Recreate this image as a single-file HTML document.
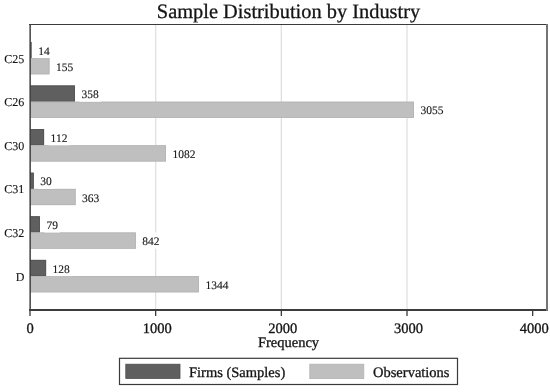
<!DOCTYPE html>
<html><head><meta charset="utf-8"><style>
html,body{margin:0;padding:0;background:#fff;}
svg{display:block;filter:grayscale(1);}
text{text-rendering:geometricPrecision;font-family:"Liberation Serif",serif;fill:#151515;stroke:#151515;stroke-width:0.3px;}
.v{font-size:11.5px;stroke-width:0.12px;}
.c{font-size:12px;stroke-width:0.12px;}
.t{font-size:14.5px;}
.title{font-size:20.4px;}
</style></head><body>
<svg width="550" height="392" viewBox="0 0 550 392">
<rect width="550" height="392" fill="#fff"/>
<line x1="155.67" y1="24.5" x2="155.67" y2="309" stroke="#e0e0e0" stroke-width="1.3"/>
<line x1="281.34" y1="24.5" x2="281.34" y2="309" stroke="#e0e0e0" stroke-width="1.3"/>
<line x1="407.01" y1="24.5" x2="407.01" y2="309" stroke="#e0e0e0" stroke-width="1.3"/>
<rect x="30.0" y="41.90" width="1.76" height="16.2" fill="#5f5f5f"/>
<rect x="30.0" y="58.10" width="19.48" height="16.2" fill="#bfbfbf"/>
<rect x="30.4" y="58.50" width="18.68" height="15.40" fill="none" stroke="#b4b4b4" stroke-width="0.8"/>
<rect x="36.26" y="41.90" width="15.50" height="16.2" fill="#fff"/>
<rect x="53.98" y="58.10" width="21.25" height="16.2" fill="#fff"/>
<text x="38.26" y="54.60" class="v">14</text>
<text x="55.98" y="70.80" class="v">155</text>
<text x="24.3" y="62.60" class="c" text-anchor="end">C25</text>
<rect x="30.0" y="85.50" width="44.99" height="16.2" fill="#5f5f5f"/>
<rect x="30.4" y="85.90" width="44.19" height="15.40" fill="none" stroke="#535353" stroke-width="0.8"/>
<rect x="30.0" y="101.70" width="383.92" height="16.2" fill="#bfbfbf"/>
<rect x="30.4" y="102.10" width="383.12" height="15.40" fill="none" stroke="#b4b4b4" stroke-width="0.8"/>
<rect x="79.49" y="85.50" width="21.25" height="16.2" fill="#fff"/>
<rect x="418.42" y="101.70" width="27.00" height="16.2" fill="#fff"/>
<text x="81.49" y="98.20" class="v">358</text>
<text x="420.42" y="114.40" class="v">3055</text>
<text x="24.3" y="106.20" class="c" text-anchor="end">C26</text>
<rect x="30.0" y="129.10" width="14.08" height="16.2" fill="#5f5f5f"/>
<rect x="30.4" y="129.50" width="13.28" height="15.40" fill="none" stroke="#535353" stroke-width="0.8"/>
<rect x="30.0" y="145.30" width="135.97" height="16.2" fill="#bfbfbf"/>
<rect x="30.4" y="145.70" width="135.17" height="15.40" fill="none" stroke="#b4b4b4" stroke-width="0.8"/>
<rect x="48.58" y="129.10" width="21.25" height="16.2" fill="#fff"/>
<rect x="170.47" y="145.30" width="27.00" height="16.2" fill="#fff"/>
<text x="50.58" y="141.80" class="v">112</text>
<text x="172.47" y="158.00" class="v">1082</text>
<text x="24.3" y="149.80" class="c" text-anchor="end">C30</text>
<rect x="30.0" y="172.70" width="3.77" height="16.2" fill="#5f5f5f"/>
<rect x="30.4" y="173.10" width="2.97" height="15.40" fill="none" stroke="#535353" stroke-width="0.8"/>
<rect x="30.0" y="188.90" width="45.62" height="16.2" fill="#bfbfbf"/>
<rect x="30.4" y="189.30" width="44.82" height="15.40" fill="none" stroke="#b4b4b4" stroke-width="0.8"/>
<rect x="38.27" y="172.70" width="15.50" height="16.2" fill="#fff"/>
<rect x="80.12" y="188.90" width="21.25" height="16.2" fill="#fff"/>
<text x="40.27" y="185.40" class="v">30</text>
<text x="82.12" y="201.60" class="v">363</text>
<text x="24.3" y="193.40" class="c" text-anchor="end">C31</text>
<rect x="30.0" y="216.30" width="9.93" height="16.2" fill="#5f5f5f"/>
<rect x="30.4" y="216.70" width="9.13" height="15.40" fill="none" stroke="#535353" stroke-width="0.8"/>
<rect x="30.0" y="232.50" width="105.81" height="16.2" fill="#bfbfbf"/>
<rect x="30.4" y="232.90" width="105.01" height="15.40" fill="none" stroke="#b4b4b4" stroke-width="0.8"/>
<rect x="44.43" y="216.30" width="15.50" height="16.2" fill="#fff"/>
<rect x="140.31" y="232.50" width="21.25" height="16.2" fill="#fff"/>
<text x="46.43" y="229.00" class="v">79</text>
<text x="142.31" y="245.20" class="v">842</text>
<text x="24.3" y="237.00" class="c" text-anchor="end">C32</text>
<rect x="30.0" y="259.90" width="16.09" height="16.2" fill="#5f5f5f"/>
<rect x="30.4" y="260.30" width="15.29" height="15.40" fill="none" stroke="#535353" stroke-width="0.8"/>
<rect x="30.0" y="276.10" width="168.90" height="16.2" fill="#bfbfbf"/>
<rect x="30.4" y="276.50" width="168.10" height="15.40" fill="none" stroke="#b4b4b4" stroke-width="0.8"/>
<rect x="50.59" y="259.90" width="21.25" height="16.2" fill="#fff"/>
<rect x="203.40" y="276.10" width="27.00" height="16.2" fill="#fff"/>
<text x="52.59" y="272.60" class="v">128</text>
<text x="205.40" y="288.80" class="v">1344</text>
<text x="24.3" y="280.60" class="c" text-anchor="end">D</text>
<line x1="29" y1="24.5" x2="548" y2="24.5" stroke="#3a3a3a" stroke-width="1.2"/>
<line x1="29" y1="310" x2="548" y2="310" stroke="#3c3c3c" stroke-width="1.8"/>
<line x1="30.15" y1="24" x2="30.15" y2="311" stroke="#424242" stroke-width="1.5"/>
<line x1="547" y1="24" x2="547" y2="311" stroke="#747474" stroke-width="2"/>
<line x1="30.00" y1="310" x2="30.00" y2="316" stroke="#3a3a3a" stroke-width="1.3"/>
<text x="30.00" y="332.7" class="t" text-anchor="middle">0</text>
<line x1="155.67" y1="310" x2="155.67" y2="316" stroke="#3a3a3a" stroke-width="1.3"/>
<text x="157.17" y="332.7" class="t" text-anchor="middle">1000</text>
<line x1="281.34" y1="310" x2="281.34" y2="316" stroke="#3a3a3a" stroke-width="1.3"/>
<text x="282.84" y="332.7" class="t" text-anchor="middle">2000</text>
<line x1="407.01" y1="310" x2="407.01" y2="316" stroke="#3a3a3a" stroke-width="1.3"/>
<text x="408.51" y="332.7" class="t" text-anchor="middle">3000</text>
<line x1="532.68" y1="310" x2="532.68" y2="316" stroke="#3a3a3a" stroke-width="1.3"/>
<text x="534.18" y="332.7" class="t" text-anchor="middle">4000</text>
<text x="288.5" y="347" class="t" text-anchor="middle">Frequency</text>
<text x="288.5" y="17.6" class="title" text-anchor="middle">Sample Distribution by Industry</text>
<rect x="119.5" y="358.3" width="338" height="26.2" fill="#fff" stroke="#3a3a3a" stroke-width="1.2"/>
<rect x="125.8" y="364.2" width="54.2" height="14.2" fill="#5f5f5f" stroke="#4e4e4e" stroke-width="0.8"/>
<text x="189" y="377" class="t">Firms (Samples)</text>
<rect x="309.8" y="364.2" width="54" height="14.4" fill="#bfbfbf" stroke="#b2b2b2" stroke-width="0.8"/>
<text x="373" y="377" class="t">Observations</text>
</svg>
</body></html>
